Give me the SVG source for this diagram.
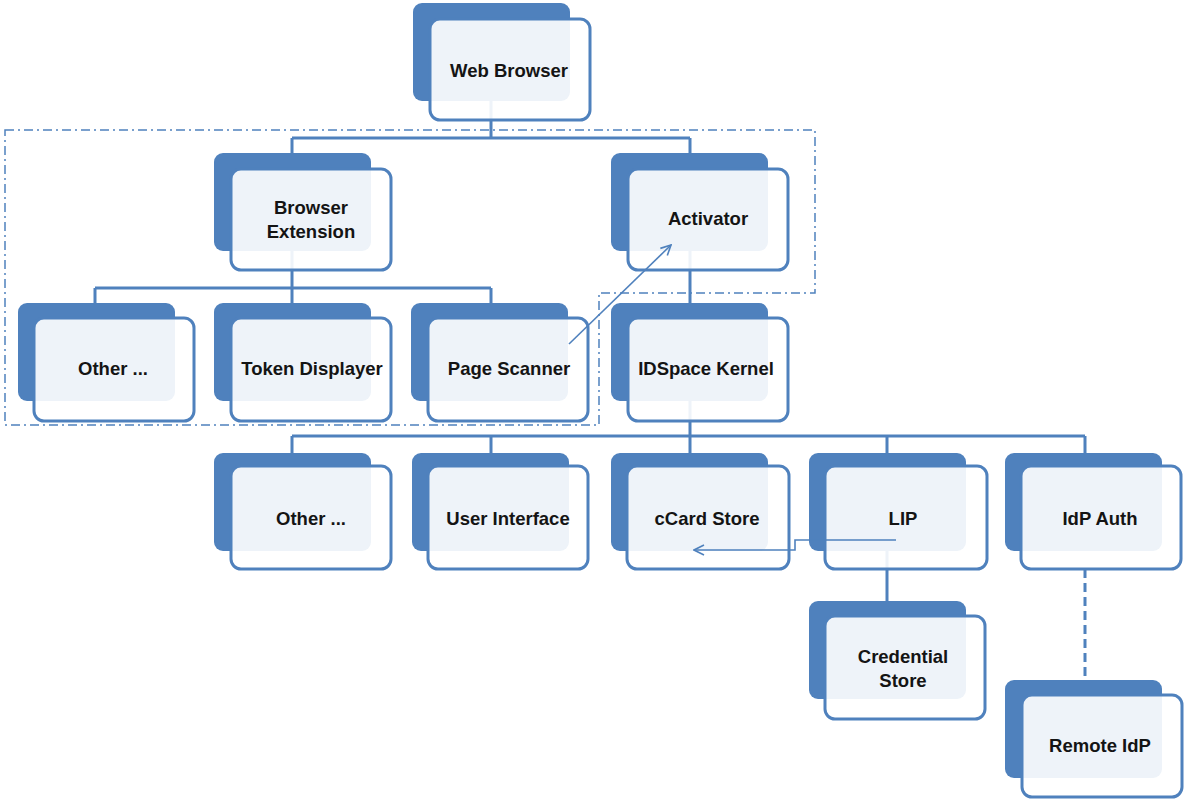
<svg xmlns="http://www.w3.org/2000/svg" width="1184" height="801" viewBox="0 0 1184 801">
<defs>
<style>
.bk{fill:#4f81bd}
.fr{fill:#fff;fill-opacity:0.9;stroke:#4f81bd;stroke-width:3}
.t{font-family:"Liberation Sans",Arial,sans-serif;font-weight:bold;font-size:18.5px;fill:#141414;text-anchor:middle;dominant-baseline:central}
.c{fill:none;stroke:#4f81bd;stroke-width:3}
.bd{fill:none;stroke:#4f81bd;stroke-width:1.5;stroke-dasharray:9,4,2,4}
.ar{fill:none;stroke:#4f81bd;stroke-width:1.6}
</style>
<marker id="ah" viewBox="0 0 12 12" refX="11" refY="6" markerWidth="12" markerHeight="12" markerUnits="userSpaceOnUse" orient="auto">
<path d="M1,1 L11,6 L1,11" fill="none" stroke="#4f81bd" stroke-width="1.6"/>
</marker>
</defs>
<rect width="1184" height="801" fill="#fff"/>
<g id="connectors">
<path class="c" d="M491,60 V138 M292,138 H690 M292,138 V170 M690,138 V170"/>
<path class="c" d="M292,210 V288 M95,288 H491 M95,288 V320 M292,288 V320 M491,288 V320"/>
<path class="c" d="M690,210 V320"/>
<path class="c" d="M690,360 V436 M292,436 H1085 M292,436 V470 M491,436 V470 M690,436 V470 M887,436 V470 M1085,436 V470"/>
<path class="c" d="M887,510 V618"/>
<path class="c" d="M1085,569 V680" stroke-dasharray="9,5"/>
</g>
<g id="boundaries">
<path class="bd" d="M5,130 H815 V293 H599 V425 H5 Z"/>
</g>
<g id="n-webbrowser"><rect class="bk" x="413" y="3" width="157" height="98" rx="9"/><rect class="fr" x="430" y="19" width="160" height="101" rx="10"/><text class="t" x="509" y="70">Web Browser</text></g>
<g id="n-browserext"><rect class="bk" x="214" y="153" width="157" height="98" rx="9"/><rect class="fr" x="231" y="169" width="160" height="101" rx="10"/><text class="t" x="311" y="207">Browser</text><text class="t" x="311" y="231">Extension</text></g>
<g id="n-activator"><rect class="bk" x="611" y="153" width="157" height="98" rx="9"/><rect class="fr" x="628" y="169" width="160" height="101" rx="10"/><text class="t" x="708" y="218">Activator</text></g>
<g id="n-other1"><rect class="bk" x="18" y="303" width="157" height="98" rx="9"/><rect class="fr" x="34" y="318" width="160" height="103" rx="10"/><text class="t" x="113" y="368">Other ...</text></g>
<g id="n-token"><rect class="bk" x="214" y="303" width="157" height="98" rx="9"/><rect class="fr" x="231" y="318" width="160" height="103" rx="10"/><text class="t" x="312" y="368">Token Displayer</text></g>
<g id="n-scanner"><rect class="bk" x="411" y="303" width="157" height="98" rx="9"/><rect class="fr" x="428" y="318" width="160" height="103" rx="10"/><text class="t" x="509" y="368">Page Scanner</text></g>
<g id="n-kernel"><rect class="bk" x="611" y="303" width="157" height="98" rx="9"/><rect class="fr" x="628" y="318" width="160" height="103" rx="10"/><text class="t" x="706" y="368">IDSpace Kernel</text></g>
<g id="n-other2"><rect class="bk" x="214" y="453" width="157" height="98" rx="9"/><rect class="fr" x="231" y="466" width="160" height="103" rx="10"/><text class="t" x="311" y="518">Other ...</text></g>
<g id="n-ui"><rect class="bk" x="412" y="453" width="157" height="98" rx="9"/><rect class="fr" x="428" y="466" width="160" height="103" rx="10"/><text class="t" x="508" y="518">User Interface</text></g>
<g id="n-ccard"><rect class="bk" x="611" y="453" width="157" height="98" rx="9"/><rect class="fr" x="627" y="466" width="162" height="103" rx="10"/><text class="t" x="707" y="518">cCard Store</text></g>
<g id="n-lip"><rect class="bk" x="809" y="453" width="157" height="98" rx="9"/><rect class="fr" x="825" y="466" width="162" height="103" rx="10"/><text class="t" x="903" y="518">LIP</text></g>
<g id="n-idpauth"><rect class="bk" x="1005" y="453" width="157" height="98" rx="9"/><rect class="fr" x="1021" y="466" width="160" height="103" rx="10"/><text class="t" x="1100" y="518">IdP Auth</text></g>
<g id="n-credstore"><rect class="bk" x="809" y="601" width="157" height="98" rx="9"/><rect class="fr" x="825" y="616" width="160" height="103" rx="10"/><text class="t" x="903" y="656">Credential</text><text class="t" x="903" y="680">Store</text></g>
<g id="n-remoteidp"><rect class="bk" x="1005" y="680" width="157" height="98" rx="9"/><rect class="fr" x="1022" y="695" width="160" height="102" rx="10"/><text class="t" x="1100" y="745">Remote IdP</text></g>
<g id="arrows">
<path class="ar" d="M569,344 L671,245" marker-end="url(#ah)"/>
<path class="ar" d="M896,540 H795 V550 H694" marker-end="url(#ah)"/>
</g>
</svg>
